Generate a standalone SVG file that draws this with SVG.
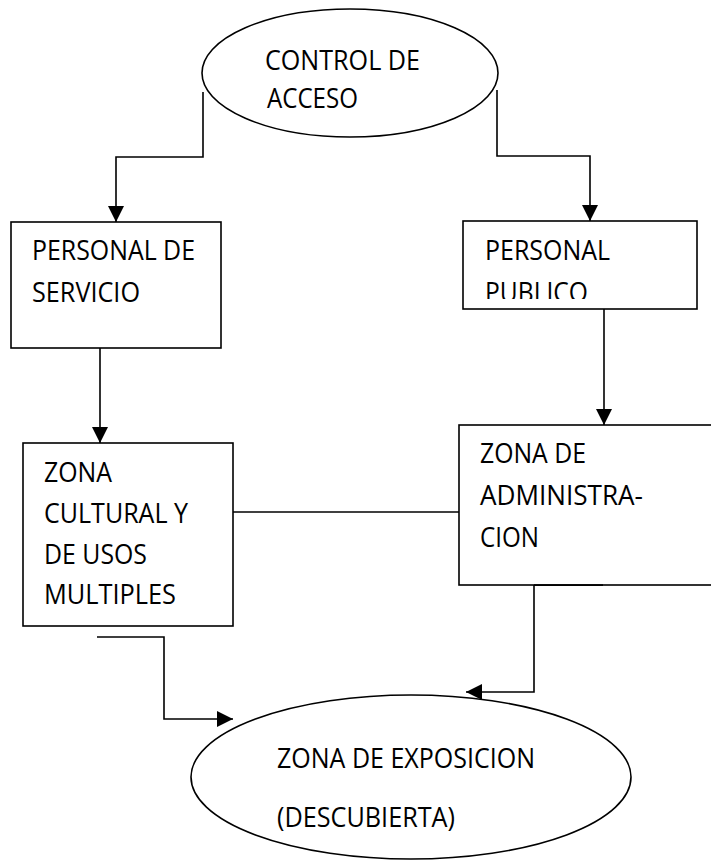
<svg xmlns="http://www.w3.org/2000/svg" width="711" height="861" viewBox="0 0 711 861">
<style>
.shape{fill:#fff;stroke:#000;stroke-width:1.6}
.con{fill:none;stroke:#000;stroke-width:1.6}
.t{font-family:"Open Sans","Liberation Sans",sans-serif;font-size:27.5px;fill:#000}
</style>
<defs>
<marker id="arr" markerUnits="userSpaceOnUse" markerWidth="16" markerHeight="16" viewBox="0 0 16 16" refX="16" refY="8" orient="auto">
<path d="M0 0 L16 8 L0 16 Z" fill="#000"/>
</marker>
<clipPath id="clipPub"><rect x="463" y="221" width="234" height="78"/></clipPath>
</defs>
<rect width="711" height="861" fill="#fff"/>
<g id="connectors">
<path class="con" d="M203 92 V157 H116 V222" marker-end="url(#arr)"/>
<path class="con" d="M497 90 V156 H590 V221" marker-end="url(#arr)"/>
<path class="con" d="M100 348 V443" marker-end="url(#arr)"/>
<path class="con" d="M604 309 V425" marker-end="url(#arr)"/>
<path class="con" d="M233 512 H459"/>
<path class="con" d="M97 637 H164 V719 H233" marker-end="url(#arr)"/>
<path class="con" d="M603 585 H534 V692 H466" marker-end="url(#arr)"/>
</g>
<g id="control-acceso">
<ellipse class="shape" cx="350" cy="73" rx="148" ry="64"/>
<text class="t" x="265" y="70" textLength="155" lengthAdjust="spacingAndGlyphs">CONTROL DE</text>
<text class="t" x="267" y="108" textLength="91" lengthAdjust="spacingAndGlyphs">ACCESO</text>
</g>
<g id="personal-servicio">
<rect class="shape" x="11" y="222" width="210" height="126"/>
<text class="t" x="32" y="260" textLength="163" lengthAdjust="spacingAndGlyphs">PERSONAL DE</text>
<text class="t" x="32" y="302" textLength="108" lengthAdjust="spacingAndGlyphs">SERVICIO</text>
</g>
<g id="personal-publico">
<rect class="shape" x="463" y="221" width="234" height="88"/>
<text class="t" x="485" y="260" textLength="125" lengthAdjust="spacingAndGlyphs">PERSONAL</text>
<text class="t" x="485" y="302" textLength="103" lengthAdjust="spacingAndGlyphs" clip-path="url(#clipPub)">PUBLICO</text>
</g>
<g id="zona-cultural">
<rect class="shape" x="23" y="443" width="210" height="183"/>
<text class="t" x="44" y="482" textLength="68" lengthAdjust="spacingAndGlyphs">ZONA</text>
<text class="t" x="44" y="523" textLength="144" lengthAdjust="spacingAndGlyphs">CULTURAL Y</text>
<text class="t" x="44" y="564" textLength="103" lengthAdjust="spacingAndGlyphs">DE USOS</text>
<text class="t" x="44" y="604" textLength="132" lengthAdjust="spacingAndGlyphs">MULTIPLES</text>
</g>
<g id="zona-administracion">
<rect class="shape" x="459" y="425" width="280" height="160"/>
<text class="t" x="480" y="463" textLength="106" lengthAdjust="spacingAndGlyphs">ZONA DE</text>
<text class="t" x="480" y="505" textLength="163" lengthAdjust="spacingAndGlyphs">ADMINISTRA-</text>
<text class="t" x="480" y="547" textLength="59" lengthAdjust="spacingAndGlyphs">CION</text>
</g>
<g id="zona-exposicion">
<ellipse class="shape" cx="411" cy="777" rx="220" ry="82"/>
<text class="t" x="277" y="768" textLength="258" lengthAdjust="spacingAndGlyphs">ZONA DE EXPOSICION</text>
<text class="t" x="277" y="827" textLength="178" lengthAdjust="spacingAndGlyphs">(DESCUBIERTA)</text>
</g>
<path class="con" d="M603 585 H534"/>
</svg>
